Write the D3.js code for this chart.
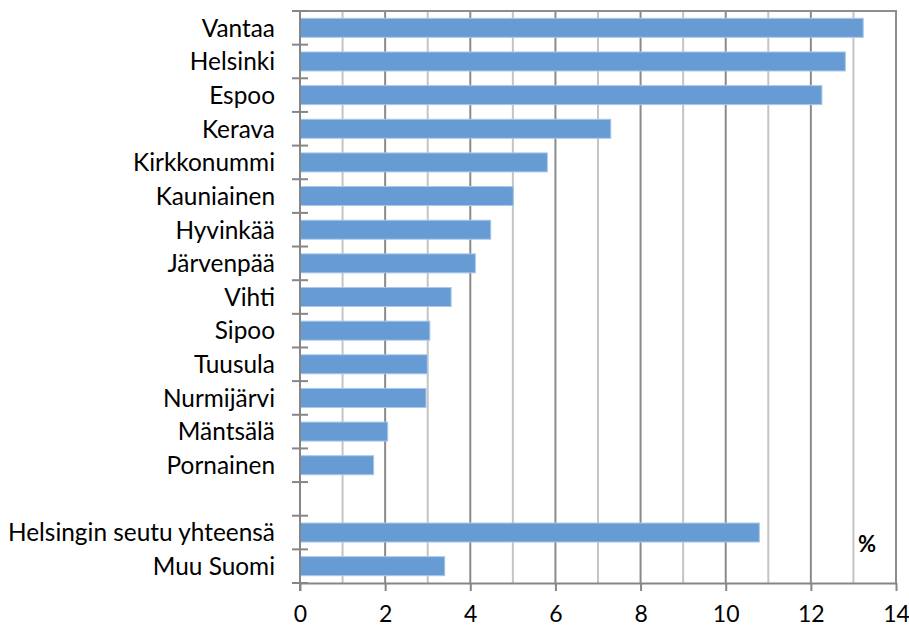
<!DOCTYPE html>
<html>
<head>
<meta charset="utf-8">
<script src="https://cdn.jsdelivr.net/npm/d3@7"></script>
<style>
	body{margin:0;background:#fff}
	text{font-family:Lato,"Open Sans",sans-serif;fill:#000}
</style>
</head>
<body>
<div id="chart"></div>
<script>
// categories top to bottom, "" is the empty gap row
var categories=["Vantaa","Helsinki","Espoo","Kerava","Kirkkonummi","Kauniainen","Hyvinkää","Järvenpää","Vihti","Sipoo","Tuusula","Nurmijärvi","Mäntsälä","Pornainen","","Helsingin seutu yhteensä","Muu Suomi"]
var values=[13.23,12.81,12.26,7.30,5.81,5.01,4.48,4.12,3.55,3.05,2.99,2.96,2.06,1.73,null,10.79,3.40]
var xTicks=[0,2,4,6,8,10,12,14]
var unitLabel="%"

var width=909, height=628
var plot={left:300, right:896, top:11, bottom:583}

var svg=d3.select("#chart").append("svg")
	.attr("width",width)
	.attr("height",height)

var xScale=d3.scaleLinear()
	.domain([0,14])
	.range([plot.left,plot.right])

var yScale=d3.scaleBand()
	.domain(d3.range(categories.length))
	.range([plot.top,plot.bottom])
	.paddingInner(0.435)
	.paddingOuter(0.2175)

// vertical gridlines, even ones darker
svg.append("g")
	.selectAll("line")
	.data(d3.range(1,14))
	.enter()
	.append("line")
	.attr("x1",d=>xScale(d)).attr("x2",d=>xScale(d))
	.attr("y1",plot.top).attr("y2",plot.bottom)
	.attr("stroke",d=>d%2==0?"#8a8a8a":"#c4c4c4")
	.attr("stroke-width",2)

// frame top and right
svg.append("path")
	.attr("d","M"+plot.left+","+plot.top+"H"+xScale(14)+"V"+plot.bottom)
	.attr("fill","none")
	.attr("stroke","#8e8e8e")
	.attr("stroke-width",2)

// bars
svg.append("g")
	.selectAll("rect")
	.data(values.map((v,i)=>({v:v,i:i})).filter(d=>d.v!=null))
	.enter()
	.append("rect")
	.attr("x",xScale(0))
	.attr("y",d=>yScale(d.i))
	.attr("width",d=>xScale(d.v)-xScale(0))
	.attr("height",yScale.bandwidth())
	.attr("fill","#679bd3")
	.attr("stroke","#a9c8ea")
	.attr("stroke-width",1)

// category axis: labels only, ticks go between categories
var yAxis=svg.append("g")
	.attr("transform","translate("+plot.left+",0)")
	.call(d3.axisLeft(yScale).tickSize(0).tickPadding(25).tickFormat(i=>categories[i]))
yAxis.select(".domain").remove()
yAxis.selectAll("text")
	.style("font-size","24.4px")
	.attr("dy","0.36em")

var step=yScale.step()
svg.append("g")
	.selectAll("line")
	.data(d3.range(categories.length+1))
	.enter()
	.append("line")
	.attr("x1",plot.left-8).attr("x2",plot.left+8)
	.attr("y1",i=>plot.top+i*step).attr("y2",i=>plot.top+i*step)
	.attr("stroke","#868686")
	.attr("stroke-width",2)

svg.append("line")
	.attr("x1",plot.left).attr("x2",plot.left)
	.attr("y1",plot.top).attr("y2",plot.bottom+8)
	.attr("stroke","#868686")
	.attr("stroke-width",2)

// value axis
var xAxis=svg.append("g")
	.attr("transform","translate(0,"+plot.bottom+")")
	.call(d3.axisBottom(xScale).tickValues(xTicks).tickSizeInner(8).tickSizeOuter(0).tickPadding(23))
xAxis.select(".domain").attr("stroke","#868686").attr("stroke-width",2)
xAxis.selectAll(".tick line").attr("stroke","#868686").attr("stroke-width",2)
xAxis.selectAll("text")
	.style("font-size","23px")
	.attr("dy","0.36em")

svg.append("text")
	.attr("x",867)
	.attr("y",552)
	.attr("text-anchor","middle")
	.style("font-size","22px")
	.style("font-weight","bold")
	.text(unitLabel)
</script>
</body>
</html>
